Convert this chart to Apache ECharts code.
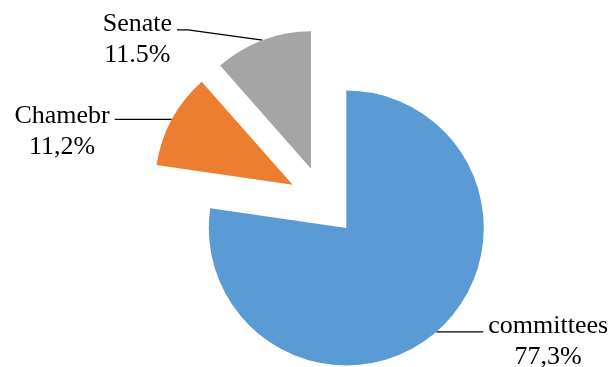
<!DOCTYPE html>
<html>
<head>
<meta charset="utf-8">
<style>
  html, body { margin: 0; padding: 0; background: #ffffff; }
  #chart { width: 613px; height: 367px; }
</style>
<script src="https://cdn.jsdelivr.net/npm/echarts@6/dist/echarts.min.js"></script>
</head>
<body>
<div id="chart"></div>
<script>
// Share of legislative work by body, in percent
const categories = ['committees', 'Chamebr', 'Senate'];
const shares = [77.3, 11.2, 11.5];
// Decimal mark used by each slice label
const decimalMarks = [',', ',', '.'];

const sliceColors = ['#5B9BD5', '#ED7D31', '#A5A5A5'];
// Leader lines: radial run, horizontal run, and an optional short flat run next to the text
const leaders = [
  { length: 0, length2: 47, flat: null },
  { length: 0, length2: 57, flat: null },
  { length: 11, length2: 81.5, flat: 11 }
];
const labelPadTop = [19, 24, 19];

const serif = '"Liberation Serif", "Times New Roman", serif';

const chart = echarts.init(document.getElementById('chart'), null, { renderer: 'canvas' });

chart.setOption({
  animation: false,
  series: [{
    type: 'pie',
    center: [323.4, 201.5],
    radius: 137.5,
    startAngle: 90,
    clockwise: true,
    selectedMode: 'multiple',
    selectedOffset: 35,
    avoidLabelOverlap: false,
    emphasis: { disabled: true },
    itemStyle: { borderWidth: 0 },
    label: {
      show: true,
      position: 'outside',
      alignTo: 'none',
      bleedMargin: 0,
      distanceToLabelLine: 5,
      overflow: 'none',
      color: '#000',
      formatter: function (p) {
        const pct = p.value.toFixed(1).replace('.', decimalMarks[p.dataIndex]) + '%';
        return '{t|' + p.name + '}\n{t|' + pct + '}';
      },
      rich: {
        t: { fontFamily: serif, fontSize: 26, lineHeight: 31, color: '#000', align: 'center' }
      }
    },
    labelLine: {
      show: true,
      smooth: false,
      lineStyle: { color: '#000', width: 1.3 }
    },
    labelLayout: function (p) {
      const flat = leaders[p.dataIndex].flat;
      const pts = p.labelLinePoints;
      if (flat == null || !pts) return {};
      const end = pts[2];
      const side = end[0] < pts[0][0] ? 1 : -1;
      return { labelLinePoints: [pts[0], [end[0] + side * flat, end[1]], end] };
    },
    data: categories.map(function (name, i) {
      return {
        name: name,
        value: shares[i],
        selected: true,
        itemStyle: { color: sliceColors[i] },
        select: { itemStyle: { color: sliceColors[i], borderWidth: 0 } },
        label: { padding: [labelPadTop[i], 0, 0, 0] },
        labelLine: { length: leaders[i].length, length2: leaders[i].length2 }
      };
    })
  }]
});
</script>
</body>
</html>
